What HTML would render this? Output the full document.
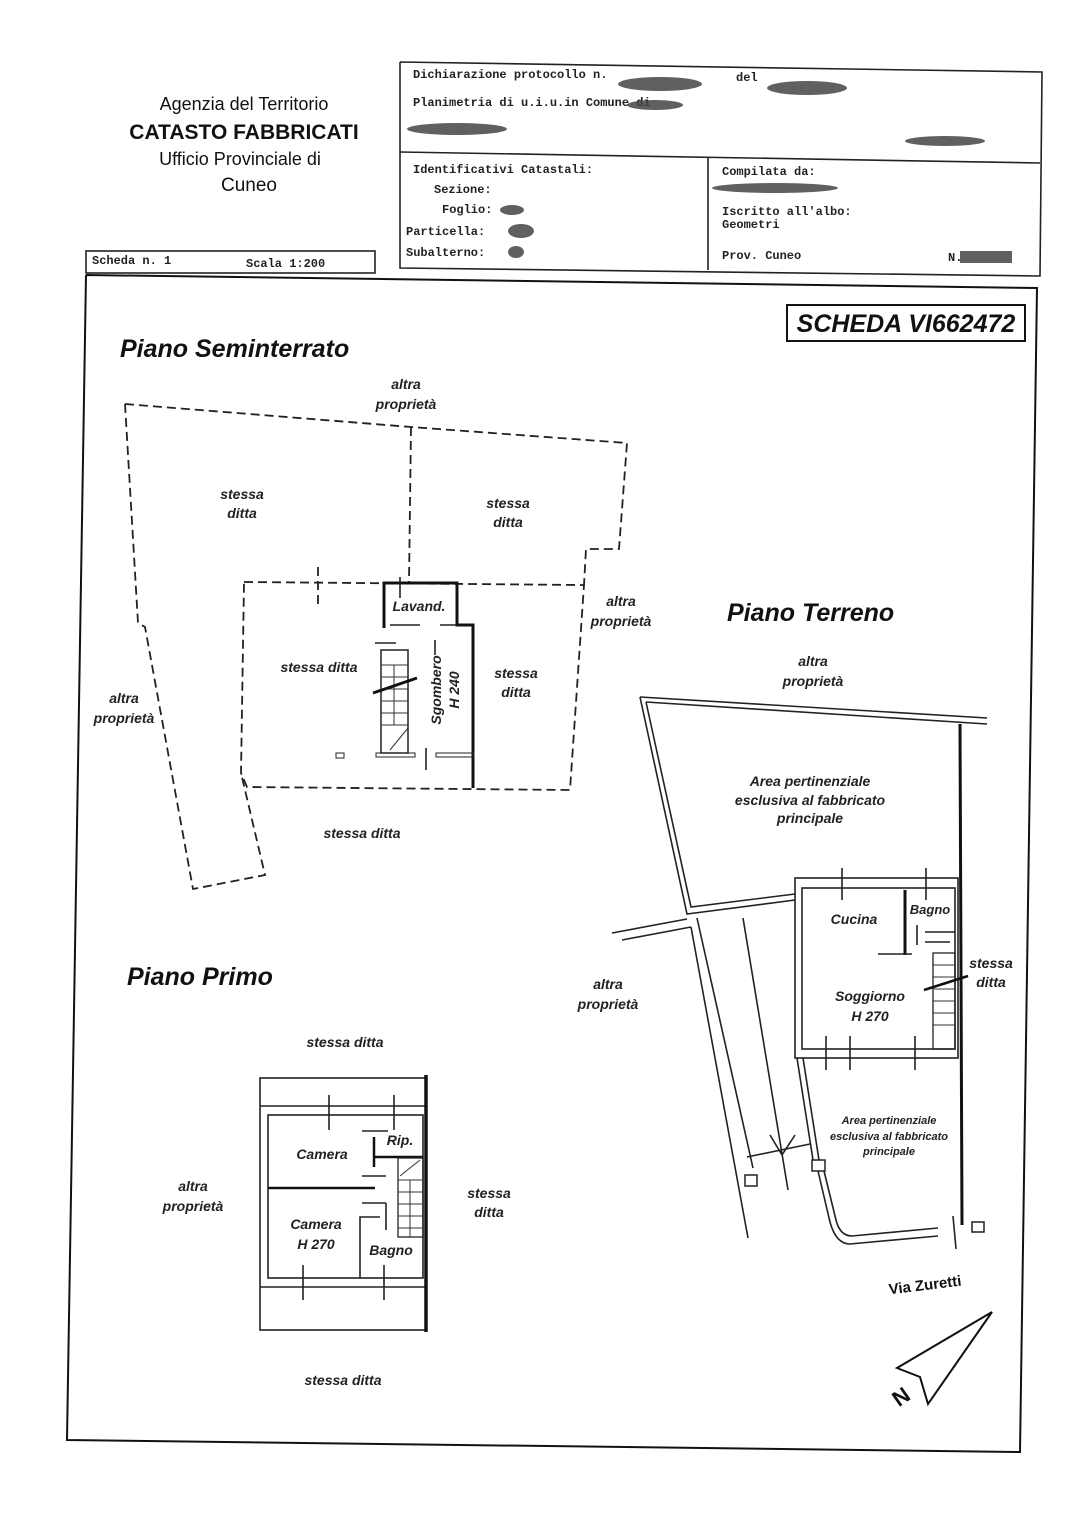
<!DOCTYPE html>
<html><head><meta charset="utf-8"><style>
body{margin:0;background:#fff}
svg{display:block}
.m{font-family:"Liberation Mono",monospace;font-size:12px;fill:#222;font-weight:bold}
.h{font-family:"Liberation Sans Narrow","Liberation Sans",sans-serif;fill:#111}
.l{font-family:"Liberation Sans",sans-serif;font-weight:bold;font-style:italic;fill:#222;text-anchor:middle;font-size:14px}
.t{font-family:"Liberation Sans",sans-serif;font-weight:bold;font-style:italic;fill:#111;font-size:25px}
.d{fill:none;stroke:#222;stroke-width:1.8;stroke-dasharray:9,5}
.s{fill:none;stroke:#222;stroke-width:1.6}
.w{fill:none;stroke:#111;stroke-width:3}
.blot{fill:#444;opacity:.85}
</style></head><body>
<svg width="1086" height="1536" viewBox="0 0 1086 1536" xmlns="http://www.w3.org/2000/svg">
<g class="h" text-anchor="middle">
<text x="244" y="110" font-size="18">Agenzia del Territorio</text>
<text x="244" y="139" font-size="21" font-weight="bold">CATASTO FABBRICATI</text>
<text x="240" y="165" font-size="18">Ufficio Provinciale di</text>
<text x="249" y="191" font-size="19">Cuneo</text>
</g>
<polyline class="s" points="400,62 1042,72 1040,276 400,268 400,62"/>
<line class="s" x1="400" y1="152" x2="1040" y2="163"/>
<line class="s" x1="708" y1="158" x2="708" y2="270"/>
<text class="m" x="413" y="78">Dichiarazione protocollo n.</text>
<text class="m" x="736" y="81">del</text>
<ellipse class="blot" cx="660" cy="84" rx="42" ry="7"/>
<ellipse class="blot" cx="807" cy="88" rx="40" ry="7"/>
<text class="m" x="413" y="106">Planimetria di u.i.u.in Comune di</text>
<ellipse class="blot" cx="655" cy="105" rx="28" ry="5"/>
<ellipse class="blot" cx="457" cy="129" rx="50" ry="6"/>
<ellipse class="blot" cx="945" cy="141" rx="40" ry="5"/>
<text class="m" x="413" y="173">Identificativi Catastali:</text>
<text class="m" x="434" y="193">Sezione:</text>
<text class="m" x="442" y="213">Foglio:</text>
<ellipse class="blot" cx="512" cy="210" rx="12" ry="5"/>
<text class="m" x="406" y="235">Particella:</text>
<ellipse class="blot" cx="521" cy="231" rx="13" ry="7"/>
<text class="m" x="406" y="256">Subalterno:</text>
<ellipse class="blot" cx="516" cy="252" rx="8" ry="6"/>
<text class="m" x="722" y="175">Compilata da:</text>
<ellipse class="blot" cx="775" cy="188" rx="63" ry="5"/>
<text class="m" x="722" y="215">Iscritto all'albo:</text>
<text class="m" x="722" y="228">Geometri</text>
<text class="m" x="722" y="259">Prov. Cuneo</text>
<text class="m" x="948" y="261">N.</text>
<rect class="blot" x="960" y="251" width="52" height="12"/>
<rect class="s" x="86" y="251" width="289" height="22"/>
<text class="m" x="92" y="264">Scheda n. 1</text>
<text class="m" x="246" y="267">Scala 1:200</text>
<polyline fill="none" stroke="#111" stroke-width="2" points="86,275 1037,288 1020,1452 67,1440 86,275"/>
<rect x="787" y="305" width="238" height="36" fill="none" stroke="#111" stroke-width="2"/>
<text class="t" x="906" y="332" text-anchor="middle" font-size="24">SCHEDA VI662472</text>

<text class="t" x="120" y="357">Piano Seminterrato</text>
<text class="t" x="727" y="621">Piano Terreno</text>
<text class="t" x="127" y="985">Piano Primo</text>

<polyline class="d" points="125,404 411,427 627,443 619,549 586,549 584,585"/>
<line class="d" x1="411" y1="427" x2="409" y2="582"/>
<polyline class="d" points="244,582 584,585 570,790 247,787 241,773 244,582"/>
<polyline class="d" points="125,404 138,623 145,627 193,889 265,875 241,773"/>
<line class="d" x1="318" y1="567" x2="318" y2="604"/>
<polyline class="w" points="384,628 384,583 457,583 457,625 473,625 473,788"/>
<line class="s" x1="390" y1="625" x2="420" y2="625"/>
<line class="s" x1="440" y1="625" x2="457" y2="625"/>
<line class="s" x1="400" y1="577" x2="400" y2="598"/>
<line class="s" x1="435" y1="640" x2="435" y2="655"/>
<line class="s" x1="375" y1="643" x2="396" y2="643"/>
<rect x="381" y="650" width="27" height="103" fill="none" stroke="#222" stroke-width="1.5"/>
<g stroke="#333" stroke-width="1">
<line x1="381" y1="665" x2="408" y2="665"/><line x1="381" y1="677" x2="408" y2="677"/><line x1="381" y1="689" x2="408" y2="689"/><line x1="381" y1="701" x2="408" y2="701"/><line x1="381" y1="713" x2="408" y2="713"/><line x1="381" y1="725" x2="408" y2="725"/><line x1="394" y1="665" x2="394" y2="725"/><line x1="390" y1="750" x2="408" y2="728"/>
</g>
<line x1="373" y1="693" x2="417" y2="678" stroke="#111" stroke-width="3"/>
<rect x="376" y="753" width="39" height="4" fill="none" stroke="#222"/>
<rect x="436" y="753" width="38" height="4" fill="none" stroke="#222"/>
<line class="s" x1="426" y1="748" x2="426" y2="770"/>
<rect x="336" y="753" width="8" height="5" fill="none" stroke="#222"/>
<text class="l" x="419" y="611">Lavand.</text>
<text class="l" transform="translate(441,690) rotate(-90)">Sgombero</text>
<text class="l" transform="translate(459,690) rotate(-90)">H 240</text>

<g class="l">
<text x="406" y="389">altra</text><text x="406" y="409">proprietà</text>
<text x="242" y="499">stessa</text><text x="242" y="518">ditta</text>
<text x="508" y="508">stessa</text><text x="508" y="527">ditta</text>
<text x="319" y="672">stessa ditta</text>
<text x="516" y="678">stessa</text><text x="516" y="697">ditta</text>
<text x="621" y="606">altra</text><text x="621" y="626">proprietà</text>
<text x="124" y="703">altra</text><text x="124" y="723">proprietà</text>
<text x="362" y="838">stessa ditta</text>
<text x="813" y="666">altra</text><text x="813" y="686">proprietà</text>
<text x="608" y="989">altra</text><text x="608" y="1009">proprietà</text>
<text x="991" y="968">stessa</text><text x="991" y="987">ditta</text>
<text x="345" y="1047">stessa ditta</text>
<text x="193" y="1191">altra</text><text x="193" y="1211">proprietà</text>
<text x="489" y="1198">stessa</text><text x="489" y="1217">ditta</text>
<text x="343" y="1385">stessa ditta</text>
</g>

<polyline class="s" points="640,697 987,718"/>
<polyline class="s" points="646,702 987,724"/>
<polyline class="s" points="640,697 687,914 795,900"/>
<polyline class="s" points="646,702 691,907 795,894"/>
<line class="w" x1="960" y1="724" x2="962" y2="1225"/>
<rect x="972" y="1222" width="12" height="10" fill="none" stroke="#222" stroke-width="1.5"/>
<rect x="795" y="878" width="163" height="180" fill="none" stroke="#222" stroke-width="1.6"/>
<rect x="802" y="888" width="153" height="161" fill="none" stroke="#222" stroke-width="1.6"/>
<line class="w" x1="905" y1="890" x2="905" y2="955"/>
<line class="s" x1="878" y1="954" x2="912" y2="954"/>
<line class="s" x1="925" y1="932" x2="955" y2="932"/>
<line class="s" x1="925" y1="942" x2="950" y2="942"/>
<line class="s" x1="917" y1="925" x2="917" y2="945"/>
<rect x="933" y="953" width="22" height="96" fill="none" stroke="#222" stroke-width="1.3"/>
<g stroke="#333" stroke-width="1">
<line x1="933" y1="965" x2="955" y2="965"/><line x1="933" y1="977" x2="955" y2="977"/><line x1="933" y1="989" x2="955" y2="989"/><line x1="933" y1="1001" x2="955" y2="1001"/><line x1="933" y1="1013" x2="955" y2="1013"/><line x1="933" y1="1025" x2="955" y2="1025"/>
</g>
<line x1="924" y1="990" x2="968" y2="976" stroke="#111" stroke-width="2.5"/>
<g class="s">
<line x1="842" y1="868" x2="842" y2="900"/><line x1="926" y1="868" x2="926" y2="900"/>
<line x1="826" y1="1036" x2="826" y2="1070"/><line x1="850" y1="1036" x2="850" y2="1070"/><line x1="915" y1="1036" x2="915" y2="1070"/>
<line x1="612" y1="933" x2="687" y2="919"/><line x1="622" y1="940" x2="691" y2="927"/>
<line x1="691" y1="927" x2="748" y2="1238"/><line x1="697" y1="918" x2="753" y2="1168"/>
<line x1="743" y1="918" x2="788" y2="1190"/><line x1="747" y1="1157" x2="810" y2="1144"/>
<line x1="797" y1="1058" x2="813" y2="1160"/><line x1="803" y1="1058" x2="819" y2="1160"/>
<path d="M818,1171 L830,1222 Q836,1244 850,1244 L938,1236"/>
<path d="M824,1171 L836,1220 Q840,1236 852,1236 L938,1228"/>
<line x1="953" y1="1216" x2="956" y2="1249"/>
<line x1="770" y1="1135" x2="782" y2="1155"/><line x1="795" y1="1135" x2="782" y2="1155"/>
</g>
<rect x="745" y="1175" width="12" height="11" fill="none" stroke="#222" stroke-width="1.5"/>
<rect x="812" y="1160" width="13" height="11" fill="none" stroke="#222" stroke-width="1.5"/>
<g class="l">
<text x="810" y="786">Area pertinenziale</text>
<text x="810" y="805">esclusiva al fabbricato</text>
<text x="810" y="823">principale</text>
<text x="854" y="924">Cucina</text>
<text x="930" y="914" font-size="13">Bagno</text>
<text x="870" y="1001">Soggiorno</text>
<text x="870" y="1021">H 270</text>
<text x="889" y="1124" font-size="11">Area pertinenziale</text>
<text x="889" y="1140" font-size="11">esclusiva al fabbricato</text>
<text x="889" y="1155" font-size="11">principale</text>
</g>
<text class="h" x="925" y="1290" font-size="15" font-weight="bold" text-anchor="middle" transform="rotate(-7 925 1285)">Via Zuretti</text>
<polygon points="992,1312 897,1368 920,1377 928,1404" fill="none" stroke="#111" stroke-width="2"/>
<text x="902" y="1404" font-family="Liberation Sans,sans-serif" font-weight="bold" font-size="22" fill="#111" transform="rotate(-35 902 1398)" text-anchor="middle">N</text>

<rect x="260" y="1078" width="166" height="252" fill="none" stroke="#222" stroke-width="1.6"/>
<line class="s" x1="260" y1="1106" x2="426" y2="1106"/>
<rect x="268" y="1115" width="155" height="163" fill="none" stroke="#222" stroke-width="1.6"/>
<line class="s" x1="260" y1="1287" x2="426" y2="1287"/>
<line x1="426" y1="1075" x2="426" y2="1332" stroke="#111" stroke-width="3.5"/>
<line x1="268" y1="1188" x2="375" y2="1188" stroke="#111" stroke-width="2.5"/>
<line x1="374" y1="1137" x2="374" y2="1167" stroke="#111" stroke-width="2.5"/>
<line x1="375" y1="1157" x2="423" y2="1157" stroke="#111" stroke-width="2.5"/>
<line class="s" x1="362" y1="1131" x2="388" y2="1131"/>
<line class="s" x1="362" y1="1176" x2="386" y2="1176"/>
<line class="s" x1="362" y1="1203" x2="386" y2="1203"/>
<line class="s" x1="386" y1="1203" x2="386" y2="1230"/>
<polyline class="s" points="360,1278 360,1217 380,1217"/>
<rect x="398" y="1158" width="25" height="79" fill="none" stroke="#222" stroke-width="1.3"/>
<g stroke="#333" stroke-width="1">
<line x1="398" y1="1180" x2="423" y2="1180"/><line x1="398" y1="1192" x2="423" y2="1192"/><line x1="398" y1="1204" x2="423" y2="1204"/><line x1="398" y1="1216" x2="423" y2="1216"/><line x1="398" y1="1228" x2="423" y2="1228"/><line x1="410" y1="1180" x2="410" y2="1237"/><line x1="400" y1="1176" x2="420" y2="1160"/>
</g>
<g class="s">
<line x1="329" y1="1095" x2="329" y2="1130"/><line x1="394" y1="1095" x2="394" y2="1130"/>
<line x1="303" y1="1265" x2="303" y2="1300"/><line x1="384" y1="1265" x2="384" y2="1300"/>
</g>
<g class="l">
<text x="322" y="1159">Camera</text>
<text x="400" y="1145">Rip.</text>
<text x="316" y="1229">Camera</text>
<text x="316" y="1249">H 270</text>
<text x="391" y="1255">Bagno</text>
</g>
</svg>
</body></html>
